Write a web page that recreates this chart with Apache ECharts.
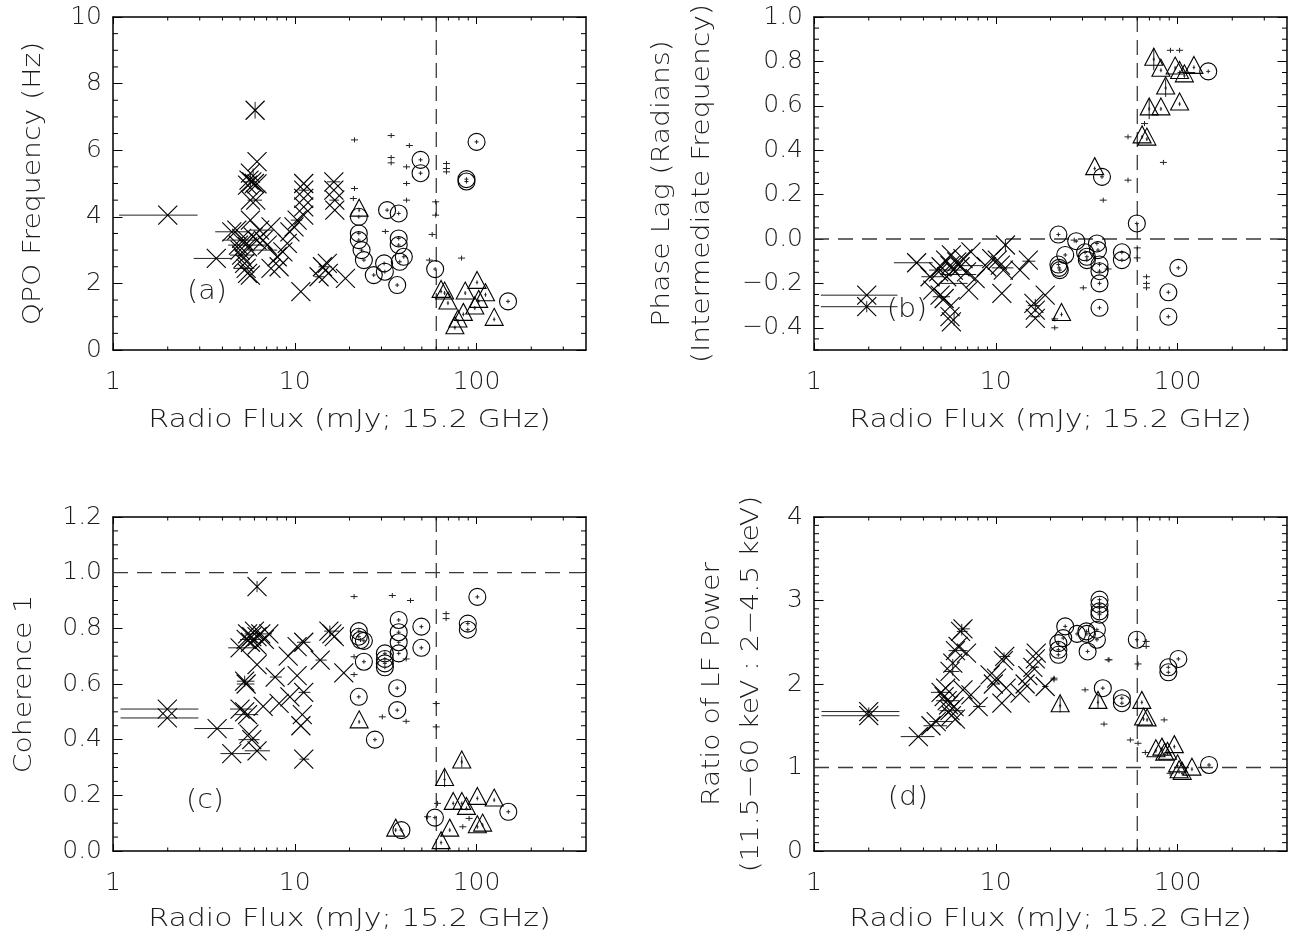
<!DOCTYPE html>
<html>
<head>
<meta charset="utf-8">
<script src="https://cdn.jsdelivr.net/npm/echarts@6/dist/echarts.min.js"></script>
<style>
  html, body { margin: 0; padding: 0; background: #fff; }
  #chart { width: 1303px; height: 941px; }
</style>
</head>
<body>
<div id="chart"></div>
<script>
// ---------- axis ticks ----------
const fluxTicks = [1, 10, 100];
const fluxMinorTicks = [2, 3, 4, 5, 6, 7, 8, 9, 20, 30, 40, 50, 60, 70, 80, 90, 200, 300];
const fluxRange = [1, 400];
const qpoTicks = [0, 2, 4, 6, 8, 10];
const lagTicks = [-0.4, -0.2, 0.0, 0.2, 0.4, 0.6, 0.8, 1.0];
const cohTicks = [0.0, 0.2, 0.4, 0.6, 0.8, 1.0, 1.2];
const ratioTicks = [0, 1, 2, 3, 4];

// reference levels (dashed)
const fluxBreak = 60;
const lagZero = 0;
const cohUnity = 1.0;
const ratioUnity = 1;

// ---------- (a) QPO frequency ----------
const qpoCross = [
  [2.0, 4.05], [3.7, 2.75], [4.5, 3.55], [4.8, 3.6], [4.9, 3.15], [5.0, 3.0], [5.1, 2.85],
  [5.2, 2.75], [5.3, 2.6], [5.4, 2.45], [5.5, 2.3], [5.7, 2.25], [5.1, 3.35], [5.3, 3.25],
  [5.5, 3.1], [5.9, 3.4], [6.2, 3.3], [6.4, 3.6], [6.7, 3.3], [7.05, 3.15], [7.4, 3.7],
  [5.7, 3.9], [6.1, 4.5], [5.7, 4.5], [6.2, 5.66], [5.7, 5.31], [5.6, 5.1], [5.8, 5.05],
  [6.0, 5.0], [6.2, 4.99], [5.5, 4.95], [6.05, 7.2], [7.4, 2.45], [8.2, 2.5], [8.0, 2.8],
  [8.6, 2.95], [9.1, 3.2], [9.4, 3.55], [9.9, 3.7], [10.3, 3.9], [11.2, 4.05], [11.2, 4.3],
  [11.2, 4.55], [11.2, 4.8], [11.2, 5.0], [10.8, 1.75], [13.6, 2.2], [14.2, 2.5], [15.1, 2.6],
  [15.3, 2.3], [16.4, 5.05], [16.4, 4.8], [16.6, 4.5], [16.6, 4.2], [19.0, 2.15]
];
const qpoCircle = [
  [22.5, 4.0], [22.5, 3.5], [22.5, 3.3], [23.3, 3.0], [24.0, 2.7], [27.2, 2.25], [31.0, 2.6],
  [31.3, 2.35], [32.2, 4.2], [37.3, 4.1], [37.3, 3.35], [37.3, 3.15], [39.8, 2.8], [37.8, 2.65],
  [36.6, 1.95], [49.2, 5.71], [49.2, 5.31], [59.2, 2.43], [88, 5.13], [88, 5.06], [100, 6.25],
  [149, 1.46]
];
const qpoTriangle = [
  [22.6, 4.2], [63.8, 1.76], [66.7, 1.71], [69.6, 1.41], [76, 0.67], [79, 0.87], [84.6, 1.07],
  [86.6, 1.71], [97.8, 1.26], [100.6, 2.03], [102.7, 1.46], [112, 1.66], [125, 0.92]
];
const qpoPlus = [
  [21.3, 6.31], [33.9, 6.44], [33.9, 5.78], [33.9, 5.62], [42.7, 6.14], [41.2, 5.5], [41.2, 5.0],
  [41.2, 4.5], [21.3, 4.85], [21.0, 4.55], [59.6, 4.45], [59.6, 4.05], [57, 3.47], [68.3, 5.6],
  [68.3, 5.45], [68.3, 5.35], [82.7, 2.76], [31.5, 3.56], [55, 2.7]
];
// horizontal error bars: [y, xLow, xHigh]
const qpoXErr = [
  [4.05, 1.08, 2.92], [2.75, 2.78, 4.5], [3.55, 3.65, 5.6], [3.3, 4.0, 6.3], [3.15, 4.3, 7.0],
  [2.85, 4.4, 6.0], [2.45, 4.6, 6.0], [3.6, 5.7, 7.7], [3.0, 5.5, 8.0], [5.05, 5.2, 6.2],
  [4.5, 5.5, 6.6], [2.5, 13.5, 16.0], [4.8, 10.5, 12.0], [5.05, 15.0, 17.8], [4.5, 15.5, 17.5],
  [2.2, 12.8, 14.6], [3.9, 9.5, 11.0]
];
// vertical error bars: [x, yLow, yHigh]
const qpoYErr = [[6.05, 6.95, 7.45], [5.7, 4.85, 5.3], [5.9, 5.0, 5.45]];

// ---------- (b) phase lag ----------
const lagCross = [
  [1.95, -0.253], [1.95, -0.305], [3.67, -0.107], [4.35, -0.17], [4.5, -0.23], [4.85, -0.148],
  [5.0, -0.125], [5.3, -0.095], [5.37, -0.17], [5.6, -0.12], [5.7, -0.072], [5.84, -0.14],
  [6.1, -0.103], [6.36, -0.125], [6.6, -0.088], [6.9, -0.148], [7.3, -0.058], [7.7, -0.178],
  [7.1, -0.23], [4.94, -0.253], [5.2, -0.268], [5.6, -0.305], [5.6, -0.35], [5.7, -0.373],
  [8.9, -0.125], [9.5, -0.088], [10.2, -0.095], [10.6, -0.118], [11.3, -0.027], [11.0, -0.14],
  [10.8, -0.245], [13.6, -0.14], [15.1, -0.095], [16.2, -0.29], [16.5, -0.32], [16.5, -0.358],
  [18.7, -0.253]
];
const lagCircle = [
  [22.1, 0.02], [27.7, -0.01], [24.1, -0.072], [22.1, -0.115], [22.3, -0.13], [22.5, -0.14],
  [31, -0.06], [31.7, -0.08], [31.7, -0.095], [36, -0.02], [36.5, -0.05], [37.2, -0.115],
  [37.2, -0.145], [37.2, -0.2], [37.2, -0.31], [38.4, 0.28], [49.4, -0.06], [49.4, -0.095],
  [59.7, 0.07], [89, -0.24], [89, -0.35], [101, -0.13], [147.5, 0.755]
];
const lagTriangle = [
  [23, -0.34], [35, 0.317], [63.8, 0.46], [67.8, 0.45], [69.8, 0.586], [81, 0.586], [86, 0.68],
  [74, 0.81], [81, 0.76], [97, 0.77], [102.6, 0.75], [109, 0.735], [123, 0.773], [102.6, 0.608]
];
const lagPlus = [
  [53.4, 0.46], [53.4, 0.265], [39, 0.175], [65.8, 0.52], [91.4, 0.85], [102.6, 0.85],
  [83.6, 0.345], [60, -0.04], [60, -0.085], [67.5, -0.17], [67.5, -0.2], [67.5, -0.22],
  [30.3, -0.22], [27, -0.005], [21.1, -0.36], [21.1, -0.4], [41.5, -0.135]
];
const lagXErr = [
  [-0.253, 1.09, 2.88], [-0.305, 1.09, 2.88], [-0.107, 2.75, 4.5], [-0.17, 3.9, 5.2],
  [-0.14, 4.3, 6.5], [-0.2, 5.0, 7.0], [-0.26, 4.5, 5.6], [-0.12, 6.0, 8.5], [-0.13, 9.5, 12.5],
  [-0.1, 14.0, 16.5], [-0.3, 15.0, 17.5], [-0.35, 15.5, 17.5], [-0.16, 5.0, 7.8],
  [0.75, 100, 125]
];
const lagYErr = [
  [5.9, -0.39, -0.33], [11.3, -0.055, 0.0], [16.5, -0.33, -0.27], [1.95, -0.33, -0.28],
  [74, 0.76, 0.86], [86, 0.64, 0.72], [69.8, 0.54, 0.63]
];

// ---------- (c) coherence ----------
const cohCross = [
  [1.99, 0.51], [1.99, 0.478], [3.74, 0.44], [4.5, 0.35], [5.0, 0.73], [5.3, 0.61], [5.4, 0.6],
  [5.0, 0.51], [5.3, 0.5], [5.5, 0.49], [5.6, 0.42], [5.8, 0.40], [6.2, 0.36], [5.5, 0.78],
  [5.8, 0.77], [6.0, 0.79], [6.2, 0.77], [6.5, 0.78], [6.8, 0.76], [5.4, 0.76], [5.7, 0.75],
  [7.2, 0.78], [6.2, 0.74], [6.2, 0.95], [6.2, 0.67], [6.7, 0.52], [7.8, 0.625], [8.2, 0.53],
  [9.2, 0.7], [9.4, 0.554], [10.3, 0.63], [11.2, 0.57], [10.3, 0.734], [11.2, 0.75],
  [11.0, 0.49], [10.8, 0.45], [11.2, 0.33], [13.8, 0.686], [15.4, 0.79], [16.0, 0.78],
  [16.5, 0.77], [18.6, 0.64]
];
const cohCircle = [
  [22.5, 0.79], [22.5, 0.77], [23, 0.758], [24, 0.755], [24, 0.68], [22.5, 0.554], [27.6, 0.40],
  [31.3, 0.71], [31.3, 0.69], [31.3, 0.674], [31.3, 0.66], [37.3, 0.83], [37.3, 0.786],
  [37.3, 0.75], [37.3, 0.71], [36.6, 0.585], [36.6, 0.506], [49.7, 0.806], [49.7, 0.73],
  [59, 0.12], [89.5, 0.817], [89.5, 0.795], [101, 0.913], [149.5, 0.141], [38.6, 0.075]
];
const cohTriangle = [
  [22.6, 0.464], [35.9, 0.075], [63.8, 0.03], [66.7, 0.257], [71.2, 0.075], [82.9, 0.32],
  [74.4, 0.171], [83, 0.171], [88, 0.153], [101, 0.189], [101, 0.087], [108, 0.093], [125, 0.183]
];
const cohPlus = [
  [21.2, 0.914], [34.4, 0.918], [43.3, 0.9], [68, 0.853], [68, 0.835], [21.2, 0.698],
  [21.2, 0.634], [30.3, 0.482], [41, 0.466], [60, 0.53], [60, 0.446], [41, 0.69],
  [53.8, 0.123], [61, 0.171], [84, 0.087], [91, 0.117]
];
const cohXErr = [
  [0.51, 1.1, 2.95], [0.478, 1.1, 2.95], [0.44, 2.8, 4.6], [0.35, 3.9, 5.7], [0.73, 4.3, 6.1],
  [0.61, 4.8, 6.0], [0.60, 4.8, 6.0], [0.51, 4.4, 5.8], [0.49, 4.7, 6.3], [0.40, 4.9, 6.4],
  [0.36, 5.3, 7.3], [0.78, 5.3, 7.5], [0.76, 5.0, 6.5], [0.79, 14.5, 17.5], [0.57, 10.5, 12.2],
  [0.33, 10.6, 12.0], [0.686, 13.0, 15.0], [0.625, 7.3, 8.5], [0.75, 10.3, 12.2]
];
const cohYErr = [[6.2, 0.93, 0.97], [5.3, 0.59, 0.63], [15.6, 0.77, 0.81], [66.7, 0.23, 0.29], [82.9, 0.30, 0.34]];

// ---------- (d) LF power ratio ----------
const ratioCross = [
  [2.0, 1.67], [2.0, 1.62], [3.75, 1.37], [4.4, 1.5], [4.7, 1.55], [5.0, 1.9], [5.2, 1.85],
  [5.3, 1.95], [5.4, 1.8], [5.5, 1.75], [5.6, 1.68], [5.7, 1.62], [5.9, 1.73], [6.0, 1.58],
  [5.6, 2.15], [5.8, 2.25], [6.0, 2.4], [6.2, 2.45], [6.4, 2.63], [6.6, 2.66], [6.9, 2.37],
  [6.6, 1.93], [7.3, 1.87], [8.0, 1.73], [9.3, 2.11], [9.7, 2.0], [10.1, 2.07], [11.0, 2.28],
  [11.2, 2.33], [10.8, 1.77], [11.4, 1.95], [13.6, 1.89], [14.5, 2.0], [15.0, 2.1], [16.0, 2.2],
  [16.5, 2.3], [16.7, 2.37], [18.7, 1.97]
];
const ratioCircle = [
  [22.1, 2.49], [22.1, 2.41], [22.1, 2.35], [23.5, 2.55], [24.1, 2.69], [28, 2.6], [31.5, 2.63],
  [31.7, 2.6], [32, 2.39], [36, 2.65], [36, 2.53], [37.2, 3.01], [37.2, 2.95], [37.2, 2.87],
  [37.2, 2.83], [38.8, 1.95], [49.4, 1.83], [49.4, 1.77], [59.7, 2.53], [89, 2.2], [89, 2.14],
  [101, 2.3], [149, 1.03]
];
const ratioTriangle = [
  [22.6, 1.74], [36.5, 1.78], [63.6, 1.78], [65, 1.58], [68, 1.57], [76, 1.2], [82, 1.22],
  [85, 1.16], [88, 1.17], [96, 1.25], [100, 1.02], [102, 0.95], [106, 0.93], [120, 0.98]
];
const ratioPlus = [
  [20.9, 2.07], [20.9, 2.05], [31, 1.93], [41.5, 2.29], [42, 2.29], [39.4, 1.52], [60.6, 2.24],
  [67.2, 2.51], [67.2, 2.45], [55, 1.33], [60.6, 1.29], [66.5, 1.18], [84.4, 1.57], [91, 0.93]
];
const ratioXErr = [
  [1.67, 1.1, 2.95], [1.62, 1.1, 2.95], [1.37, 3.0, 4.6], [1.5, 4.0, 5.4], [1.55, 4.3, 5.8],
  [1.9, 4.4, 5.7], [1.8, 4.7, 6.3], [1.68, 4.9, 6.6], [2.15, 5.2, 6.3], [2.4, 5.5, 7.0],
  [2.63, 6.1, 7.0], [2.66, 6.2, 7.2], [1.73, 7.5, 8.8], [2.33, 10.5, 12.0], [2.2, 15.5, 17.3],
  [2.0, 9.3, 10.5], [1.97, 18.0, 19.5]
];
const ratioYErr = [
  [2.0, 1.6, 1.72], [6.5, 2.58, 2.72], [11.1, 2.25, 2.38], [5.8, 2.1, 2.3], [22.6, 1.66, 1.85],
  [36.5, 1.7, 1.87], [37.2, 2.78, 3.02]
];

// ---------- styling ----------
const FONT = "'DejaVu Sans', 'Liberation Sans', sans-serif";
const TEXT = '#1c1c1c';
const INK = '#000';
const BAR = '#222';

function minorBetween(lo, hi, step, majors) {
  const out = [];
  const n = Math.round((hi - lo) / step);
  for (let k = 0; k <= n; k++) {
    const v = +(lo + k * step).toFixed(6);
    if (!majors.some(m => Math.abs(m - v) < 1e-6)) out.push(v);
  }
  return out;
}

const panels = [
  { box: { left: 113, top: 17, width: 473, height: 333 }, yRange: [0, 10], yTicks: qpoTicks,
    yMinor: minorBetween(0, 10, 0.5, qpoTicks), decimals: 0, hLine: null,
    cross: qpoCross, circle: qpoCircle, triangle: qpoTriangle, plus: qpoPlus, xErr: qpoXErr, yErr: qpoYErr },
  { box: { left: 814, top: 17, width: 473, height: 333 }, yRange: [-0.5, 1.0], yTicks: lagTicks,
    yMinor: minorBetween(-0.5, 1.0, 0.05, lagTicks), decimals: 1, hLine: lagZero,
    cross: lagCross, circle: lagCircle, triangle: lagTriangle, plus: lagPlus, xErr: lagXErr, yErr: lagYErr },
  { box: { left: 113, top: 517, width: 473, height: 334 }, yRange: [0, 1.2], yTicks: cohTicks,
    yMinor: minorBetween(0, 1.2, 0.05, cohTicks), decimals: 1, hLine: cohUnity,
    cross: cohCross, circle: cohCircle, triangle: cohTriangle, plus: cohPlus, xErr: cohXErr, yErr: cohYErr },
  { box: { left: 814, top: 517, width: 473, height: 334 }, yRange: [0, 4], yTicks: ratioTicks,
    yMinor: minorBetween(0, 4, 0.1, ratioTicks), decimals: 0, hLine: ratioUnity,
    cross: ratioCross, circle: ratioCircle, triangle: ratioTriangle, plus: ratioPlus, xErr: ratioXErr, yErr: ratioYErr }
];

function seg(x1, y1, x2, y2, w, c, dash) {
  const style = { stroke: c || INK, lineWidth: w || 1 };
  if (dash) style.lineDash = dash;
  return { type: 'line', shape: { x1, y1, x2, y2 }, style };
}
function tinyPlus(x, y, hx, hy) {
  return [seg(x - hx, y, x + hx, y, 1, BAR), seg(x, y - hy, x, y + hy, 1, BAR)];
}
const shapes = {
  cross(x, y) {
    const h = 9.5;
    return [seg(x - h, y - h, x + h, y + h, 1.1), seg(x - h, y + h, x + h, y - h, 1.1)];
  },
  circle(x, y) {
    return [{ type: 'circle', shape: { cx: x, cy: y, r: 8.5 }, style: { fill: 'none', stroke: INK, lineWidth: 1.1 } }]
      .concat(tinyPlus(x, y, 2, 2));
  },
  triangle(x, y) {
    return [{ type: 'polygon', shape: { points: [[x, y - 11], [x + 9, y + 6], [x - 9, y + 6]] },
      style: { fill: 'none', stroke: INK, lineWidth: 1.1 } }].concat(tinyPlus(x, y, 1.2, 2));
  },
  plus(x, y) { return tinyPlus(x, y, 3.5, 2.5); }
};

const xAxes = [], yAxes = [], grids = [], series = [];

function labelStyle(extra) {
  return Object.assign({ fontSize: 25, fontFamily: FONT, fontWeight: 200, color: TEXT, lineHeight: 25 }, extra);
}

panels.forEach((p, i) => {
  grids.push(Object.assign({ containLabel: false, outerBoundsMode: 'none', show: false }, p.box));
  const lineStyle = { color: INK, width: 1.5 };
  const fmtY = v => (p.decimals ? Number(v).toFixed(p.decimals) : String(Math.round(v))).replace('-', '\u2212');
  ['bottom', 'top'].forEach(pos => {
    xAxes.push({
      gridIndex: i, type: 'log', logBase: 10, min: fluxRange[0], max: fluxRange[1], position: pos,
      axisLine: { show: true, onZero: false, lineStyle },
      axisTick: { show: true, inside: true, length: 7, customValues: fluxTicks, lineStyle: { color: INK, width: 1 } },
      axisLabel: pos === 'bottom'
        ? labelStyle({ show: true, customValues: fluxTicks, margin: 20, formatter: v => String(Math.round(v)) })
        : { show: false },
      splitLine: { show: false }, minorTick: { show: false }, minorSplitLine: { show: false }
    });
  });
  ['left', 'right'].forEach(pos => {
    yAxes.push({
      gridIndex: i, type: 'value', min: p.yRange[0], max: p.yRange[1], position: pos,
      axisLine: { show: true, onZero: false, lineStyle },
      axisTick: { show: true, inside: true, length: 9.5, customValues: p.yTicks, lineStyle: { color: INK, width: 1 } },
      axisLabel: pos === 'left'
        ? labelStyle({ show: true, customValues: p.yTicks, margin: 11, formatter: fmtY })
        : { show: false },
      splitLine: { show: false }, minorTick: { show: false }, minorSplitLine: { show: false }
    });
  });

  const axisRef = { xAxisIndex: 2 * i, yAxisIndex: 2 * i };

  // minor ticks on all four sides of the box
  series.push(Object.assign({
    type: 'custom', silent: true, z: 3, data: [[fluxRange[0], p.yRange[0]]],
    renderItem(params, api) {
      const cs = params.coordSys;
      const top = cs.y, bottom = cs.y + cs.height, left = cs.x, right = cs.x + cs.width;
      const kids = [];
      fluxMinorTicks.forEach(v => {
        const x = api.coord([v, p.yRange[0]])[0];
        kids.push(seg(x, bottom, x, bottom - 3.5), seg(x, top, x, top + 3.5));
      });
      p.yMinor.forEach(v => {
        const y = api.coord([fluxRange[0], v])[1];
        kids.push(seg(left, y, left + 5, y), seg(right, y, right - 5, y));
      });
      return { type: 'group', children: kids };
    }
  }, axisRef));

  // dashed reference levels
  series.push(Object.assign({
    type: 'custom', silent: true, z: 4, data: [[fluxBreak, p.yRange[0]]],
    renderItem(params, api) {
      const cs = params.coordSys;
      const kids = [];
      const x = api.coord([fluxBreak, p.yRange[0]])[0];
      kids.push(seg(x, cs.y, x, cs.y + cs.height, 1, INK, [15, 8]));
      if (p.hLine !== null) {
        const y = api.coord([fluxRange[0], p.hLine])[1];
        kids.push(seg(cs.x, y, cs.x + cs.width, y, 1.4, '#3a3a3a', [15, 9]));
      }
      return { type: 'group', children: kids };
    }
  }, axisRef));

  // error bars
  series.push(Object.assign({
    type: 'custom', silent: true, z: 5, data: p.xErr, encode: { x: [1, 2], y: 0 },
    renderItem(params, api) {
      const y = api.value(0);
      const a = api.coord([api.value(1), y]), b = api.coord([api.value(2), y]);
      return seg(a[0], a[1], b[0], b[1], 1, BAR);
    }
  }, axisRef));
  series.push(Object.assign({
    type: 'custom', silent: true, z: 5, data: p.yErr, encode: { x: 0, y: [1, 2] },
    renderItem(params, api) {
      const x = api.value(0);
      const a = api.coord([x, api.value(1)]), b = api.coord([x, api.value(2)]);
      return seg(a[0], a[1], b[0], b[1], 1, BAR);
    }
  }, axisRef));

  // data marks
  ['plus', 'triangle', 'circle', 'cross'].forEach(kind => {
    series.push(Object.assign({
      type: 'custom', silent: true, z: 6, data: p[kind], encode: { x: 0, y: 1 },
      renderItem(params, api) {
        const c = api.coord([api.value(0), api.value(1)]);
        return { type: 'group', children: shapes[kind](c[0], c[1]) };
      }
    }, axisRef));
  });
});

// titles and panel letters
function txt(text, x, y, vertical, stretch, size) {
  return {
    type: 'text', x, y, rotation: vertical ? Math.PI / 2 : 0, scaleX: stretch, silent: true, z: 10,
    style: {
      text, fill: TEXT, fontSize: size || 25, fontFamily: FONT, fontWeight: 200,
      align: 'center', verticalAlign: 'middle', textAlign: 'center', textVerticalAlign: 'middle'
    }
  };
}
const fluxTitle = 'Radio Flux (mJy; 15.2 GHz)';
const graphics = [
  txt(fluxTitle, 349.5, 420, false, 1.2), txt(fluxTitle, 1050.5, 420, false, 1.2),
  txt(fluxTitle, 349.5, 919, false, 1.2), txt(fluxTitle, 1050.5, 919, false, 1.2),
  txt('QPO Frequency (Hz)', 33, 183.5, true, 1.13),
  txt('Phase Lag (Radians)', 662, 183.5, true, 1.13),
  txt('(Intermediate Frequency)', 702, 183.5, true, 1.13),
  txt('Coherence 1', 24, 684, true, 1.13),
  txt('Ratio of LF Power', 712, 684, true, 1.13),
  txt('(11.5\u221260 keV : 2\u22124.5 keV)', 751, 684, true, 1.13),
  txt('(a)', 207, 292, false, 1.1, 26), txt('(b)', 907, 310, false, 1.1, 26),
  txt('(c)', 205, 801, false, 1.1, 26), txt('(d)', 908, 798, false, 1.1, 26)
];

const chart = echarts.init(document.getElementById('chart'), null, { renderer: 'canvas' });
chart.setOption({
  backgroundColor: '#fff',
  animation: false,
  grid: grids,
  xAxis: xAxes,
  yAxis: yAxes,
  series,
  graphic: graphics
});
</script>
</body>
</html>
